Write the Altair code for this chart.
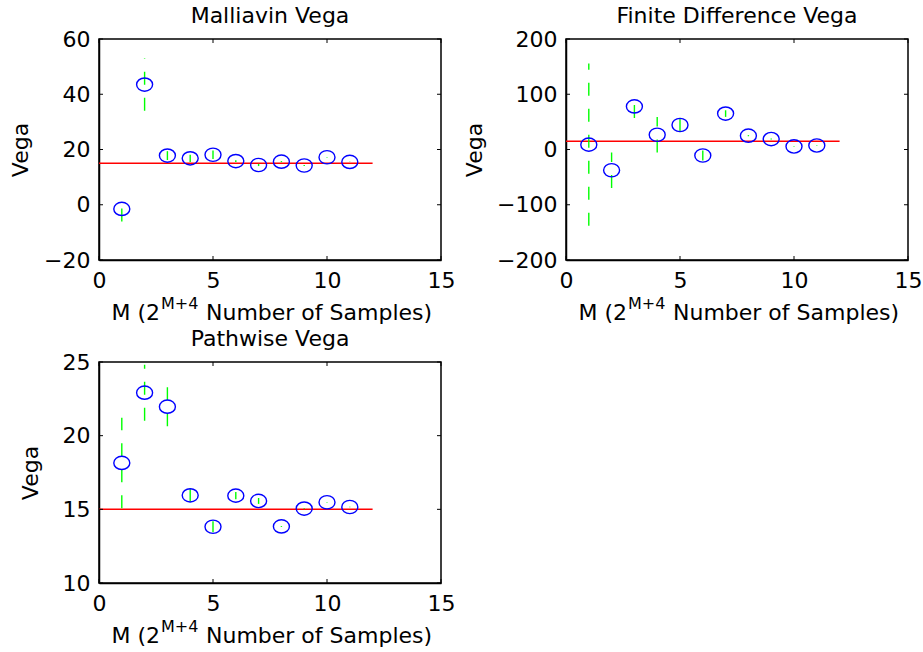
import altair as alt
import pandas as pd

# ---------------- data ----------------
M = [1, 2, 3, 4, 5, 6, 7, 8, 9, 10, 11]

mall_val = [-1.5, 43.5, 17.8, 16.8, 18.1, 15.8, 14.4, 15.6, 14.2, 17.2, 15.5]
mall_err = [4.6, 9.5, 1.6, 1.3, 1.5, 0.3, 0.4, 0.2, 0.2, 0.1, 0.05]

fd_val = [8.8, -37.5, 78.0, 26.7, 44.3, -10.9, 65.0, 25.0, 18.9, 5.5, 7.3]
fd_err = [147.0, 32.0, 21.0, 32.0, 12.0, 9.0, 6.0, 1.0, 1.0, 0.5, 0.3]

path_val = [18.15, 22.92, 21.97, 15.95, 13.82, 15.93, 15.57, 13.84, 15.05, 15.48, 15.16]
path_err = [3.07, 1.9, 1.33, 0.43, 0.37, 0.25, 0.2, 0.03, 0.02, 0.02, 0.02]

true_vega = 15
ref_x = [0, 12]

x_ticks = [0, 5, 10, 15]
mall_ticks = [-20, 0, 20, 40, 60]
fd_ticks = [-200, -100, 0, 100, 200]
path_ticks = [10, 15, 20, 25]

titles = ["Malliavin Vega", "Finite Difference Vega", "Pathwise Vega"]
xt1, xt2, xt3 = "M (2", "M+4", "Number of Samples)"

# ---------------- style ----------------
FONT = "DejaVu Sans"
FS = 22
W, H = 342, 221
ELLIPSE = "M -1 0 A 1 0.83 0 1 1 1 0 A 1 0.83 0 1 1 -1 0 Z"


def panel(title, vals, errs, ydom, yticks, ytitle_x):
    df = pd.DataFrame({"M": M, "v": vals, "e": errs})
    df["lo"] = df["v"] - df["e"]
    df["hi"] = df["v"] + df["e"]

    xs = alt.Scale(domain=[0, 15], nice=False, zero=False)
    ys = alt.Scale(domain=ydom, nice=False, zero=False)
    xax = alt.Axis(values=x_ticks, title=None, ticks=False, labelPadding=10,
                   grid=False, format="d", labelFlush=False)
    yax = alt.Axis(values=yticks, title="Vega", ticks=False, labelPadding=9,
                   grid=False, format="d", labelFlush=False,
                   titleAngle=270, titleX=ytitle_x, titleY=H / 2,
                   titleBaseline="alphabetic", titleAlign="center")

    base = alt.Chart(df)
    err = base.mark_rule(color="#00ff00", strokeWidth=1.4, strokeDash=[13, 13]).encode(
        x=alt.X("M:Q", scale=xs, axis=xax),
        y=alt.Y("lo:Q", scale=ys, axis=yax),
        y2="hi:Q",
    )
    pts = base.mark_point(shape=ELLIPSE, size=256, filled=False, color="#0000ff",
                          strokeWidth=1.4, opacity=1).encode(
        x=alt.X("M:Q", scale=xs, axis=xax),
        y=alt.Y("v:Q", scale=ys, axis=yax),
    )
    ref = alt.Chart(pd.DataFrame({"x": ref_x, "y": [true_vega] * len(ref_x)})).mark_line(
        color="#ff0000", strokeWidth=1.5).encode(
        x=alt.X("x:Q", scale=xs, axis=xax),
        y=alt.Y("y:Q", scale=ys, axis=yax),
    )

    xt = alt.Chart(pd.DataFrame({"t": x_ticks}))
    yt = alt.Chart(pd.DataFrame({"t": yticks}))
    tick_style = dict(color="black", strokeWidth=1)
    xb = xt.mark_rule(**tick_style).encode(x=alt.X("t:Q", scale=xs, axis=xax),
                                           y=alt.value(H), y2=alt.value(H - 4))
    xtp = xt.mark_rule(**tick_style).encode(x=alt.X("t:Q", scale=xs, axis=xax),
                                            y=alt.value(0), y2=alt.value(4))
    yl = yt.mark_rule(**tick_style).encode(y=alt.Y("t:Q", scale=ys, axis=yax),
                                           x=alt.value(0), x2=alt.value(4))
    yr = yt.mark_rule(**tick_style).encode(y=alt.Y("t:Q", scale=ys, axis=yax),
                                           x=alt.value(W - 4), x2=alt.value(W))

    txt = dict(font=FONT, baseline="alphabetic", color="black")
    tt = alt.Chart(pd.DataFrame({"s": [title]})).mark_text(
        fontSize=FS, align="center", **txt).encode(
        text="s:N", x=alt.value(W / 2), y=alt.value(-16))
    t1 = alt.Chart(pd.DataFrame({"s": [xt1]})).mark_text(
        fontSize=FS, align="right", **txt).encode(
        text="s:N", x=alt.value(61), y=alt.value(H + 60))
    t2 = alt.Chart(pd.DataFrame({"s": [xt2]})).mark_text(
        fontSize=16, align="left", **txt).encode(
        text="s:N", x=alt.value(62), y=alt.value(H + 49))
    t3 = alt.Chart(pd.DataFrame({"s": [xt3]})).mark_text(
        fontSize=FS, align="left", **txt).encode(
        text="s:N", x=alt.value(107), y=alt.value(H + 60))

    return alt.layer(ref, err, pts, xb, xtp, yl, yr, tt, t1, t2, t3).properties(
        width=W, height=H,
    )


p1 = panel(titles[0], mall_val, mall_err, [-20, 60], mall_ticks, -72)
p2 = panel(titles[1], fd_val, fd_err, [-200, 200], fd_ticks, -85)
p3 = panel(titles[2], path_val, path_err, [10, 25], path_ticks, -62)

chart = alt.concat(p1, p2, p3, columns=2, spacing={"row": 102, "column": 125},
                   bounds="flush").properties(
    padding={"left": 8, "top": 4, "right": 0, "bottom": 0},
    background="white",
).configure_view(
    stroke="black", strokeWidth=1.5
).configure_axis(
    domainColor="black", domainWidth=1.5, labelFont=FONT, labelFontSize=FS,
    labelColor="black", titleFont=FONT, titleFontSize=FS, titleFontWeight="normal",
    titleColor="black", grid=False,
)

chart.save("out.html", embed_options={"renderer": "svg", "actions": False})
